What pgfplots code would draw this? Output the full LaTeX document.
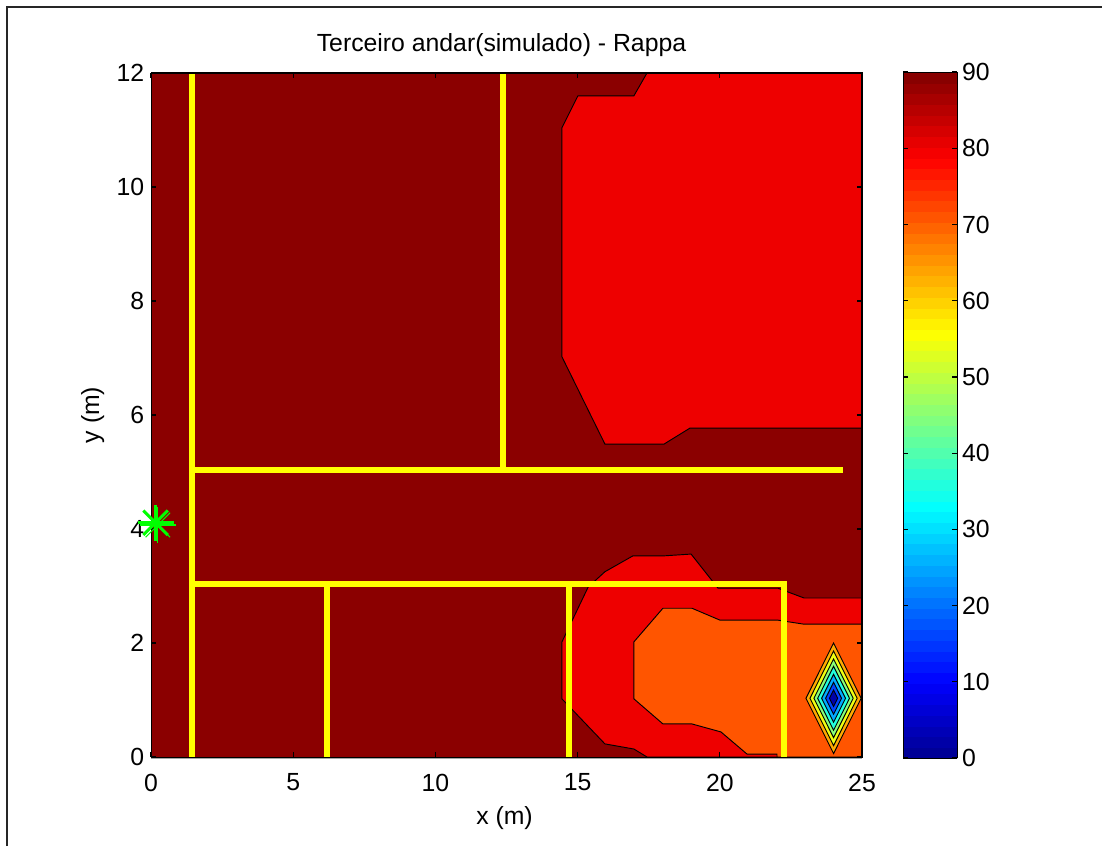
\documentclass[border=0pt]{standalone}
\usepackage{fontspec}
\setmainfont{Liberation Sans}
\usepackage{pgfplots}
\pgfplotsset{compat=1.18}
\definecolor{cDark}{RGB}{139,0,0}
\definecolor{cRed}{RGB}{238,0,0}
\definecolor{cOrange}{RGB}{255,85,0}
\definecolor{cYel}{RGB}{255,255,0}
\definecolor{cGreen}{RGB}{0,255,0}
\newcommand{\lblfont}{\fontsize{18.6}{20}\selectfont}
\pgfplotsset{colormap={mjet}{rgb255(1)=(0,0,143); rgb255(8)=(0,0,255); rgb255(24)=(0,255,255); rgb255(40)=(255,255,0); rgb255(56)=(255,0,0); rgb255(64)=(128,0,0)}}
\begin{document}
\begin{tikzpicture}[x=1pt,y=1pt]
\path[use as bounding box] (0,0) rectangle (826.5,634.5);
\draw[line width=1.3pt,black!85] (5.4,0) -- (5.4,629.5) -- (826.5,629.5);
\begin{axis}[
  at={(113.25pt,66.75pt)}, anchor=south west,
  scale only axis, width=533.25pt, height=513pt,
  xmin=0, xmax=25, ymin=0, ymax=12,
  xtick={0,5,...,25}, ytick={0,2,...,12},
  tick align=inside, tick pos=both, major tick length=3.75pt,
  tick style={black, line width=0.9pt},
  axis on top, clip=false,
  /pgf/number format/assume math mode=true,
  tick label style={font=\lblfont},
  xticklabel style={yshift=-9pt},
  yticklabel style={xshift=-1.5pt},
  title={Terceiro andar(simulado) - Rappa},
  title style={font=\lblfont, xshift=-3.75pt, yshift=3pt},
  xlabel={x (m)}, ylabel={y (m)},
  xlabel style={font=\lblfont, yshift=-4.25pt, xshift=-1.5pt},
  ylabel style={font=\lblfont, yshift=2.5pt},
  colormap name=mjet,
  point meta min=0, point meta max=90,
  colorbar sampled,
  colorbar style={
    samples=65,
    at={(parent axis.south east)}, anchor=south west,
    xshift=22.5pt, yshift=-0.75pt,
    scale only axis, width=40.5pt, height=514.5pt,
    ytick={0,10,...,90},
    tick align=inside, major tick length=3.75pt,
    tick style={black, line width=0.9pt},
    axis on top,
    ytick pos=both, yticklabel pos=right,
    /pgf/number format/assume math mode=true,
    tick label style={font=\lblfont},
    yticklabel style={xshift=0pt},
  },
]
% background level
\addplot[fill=cDark, draw=none] coordinates {(0,0) (25,0) (25,12) (0,12)} --cycle;
% upper red region
\addplot[fill=cRed, draw=black, line width=0.7pt] coordinates {
 (17.44,12) (16.98,11.60) (15.01,11.60) (14.45,11.04) (14.45,7.02) (15.96,5.49) (18.04,5.49) (18.95,5.77) (25,5.77) (25,12)} --cycle;
% lower red region
\addplot[fill=cRed, draw=black, line width=0.7pt] coordinates {
 (17.44,0) (16.98,0.14) (15.96,0.23) (14.45,1.02) (14.45,2.02) (15.37,2.98) (15.96,3.25) (16.95,3.53) (18.07,3.53) (18.99,3.56) (19.94,2.96) (22.05,2.96) (22.96,2.79) (25,2.79) (25,0)} --cycle;
% orange region
\addplot[fill=cOrange, draw=black, line width=0.7pt] coordinates {
 (16.98,2.02) (18.0,2.61) (19.02,2.61) (20.01,2.40) (22.05,2.40) (22.96,2.33) (25,2.33) (25,0) (22.01,0) (22.01,0.05) (20.96,0.05) (20.04,0.44) (19.02,0.58) (18.0,0.58) (16.98,1.02)} --cycle;
% nested diamonds
\addplot[fill={rgb,255:red,255;green,170;blue,0}, draw=black, line width=0.7pt] coordinates {(23.03,1.03) (24,2.00) (24.97,1.03) (24,0.06)} --cycle;
\addplot[fill={rgb,255:red,238;green,255;blue,17}, draw=black, line width=0.7pt] coordinates {(23.17,1.03) (24,1.86) (24.83,1.03) (24,0.20)} --cycle;
\addplot[fill={rgb,255:red,136;green,255;blue,119}, draw=black, line width=0.7pt] coordinates {(23.31,1.03) (24,1.72) (24.69,1.03) (24,0.34)} --cycle;
\addplot[fill={rgb,255:red,34;green,255;blue,221}, draw=black, line width=0.7pt] coordinates {(23.44,1.03) (24,1.59) (24.56,1.03) (24,0.47)} --cycle;
\addplot[fill={rgb,255:red,0;green,170;blue,255}, draw=black, line width=0.7pt] coordinates {(23.58,1.03) (24,1.45) (24.42,1.03) (24,0.61)} --cycle;
\addplot[fill={rgb,255:red,0;green,68;blue,255}, draw=black, line width=0.7pt] coordinates {(23.72,1.03) (24,1.31) (24.28,1.03) (24,0.75)} --cycle;
\addplot[fill={rgb,255:red,0;green,0;blue,170}, draw=black, line width=0.7pt] coordinates {(23.855,1.03) (24,1.175) (24.145,1.03) (24,0.885)} --cycle;
% walls
\addplot[cYel, line width=4.5pt] coordinates {(1.44,0) (1.44,12)};
\addplot[cYel, line width=4.5pt] coordinates {(1.44,5.035) (24.33,5.035)};
\addplot[cYel, line width=4.5pt] coordinates {(12.38,5.035) (12.38,12)};
\addplot[cYel, line width=4.5pt, line join=miter] coordinates {(1.44,3.035) (22.26,3.035) (22.26,0)};
\addplot[cYel, line width=4.5pt] coordinates {(6.19,0) (6.19,3.035)};
\addplot[cYel, line width=4.5pt] coordinates {(14.70,0) (14.70,3.035)};
% transmitter
\addplot[cGreen, only marks, mark=+, mark size=13.5pt, mark options={line width=2.2pt}] coordinates {(0.16,4.11)};
\addplot[cGreen, only marks, mark=x, mark size=13pt, mark options={line width=2.2pt}] coordinates {(0.16,4.11)};
\addplot[cGreen, only marks, mark=+, mark size=13.5pt, mark options={line width=0.8pt}] coordinates {(0.24,4.07)};
\addplot[cGreen, only marks, mark=x, mark size=13pt, mark options={line width=0.8pt}] coordinates {(0.24,4.07)};
\draw[black, line width=1.5pt] (axis description cs:0,1) -- (axis description cs:1,1) -- (axis description cs:1,0);
\draw[gray!70, line width=0.9pt] (axis description cs:0,-0.0015) -- (axis description cs:1,-0.0015);
\end{axis}
\end{tikzpicture}
\end{document}
